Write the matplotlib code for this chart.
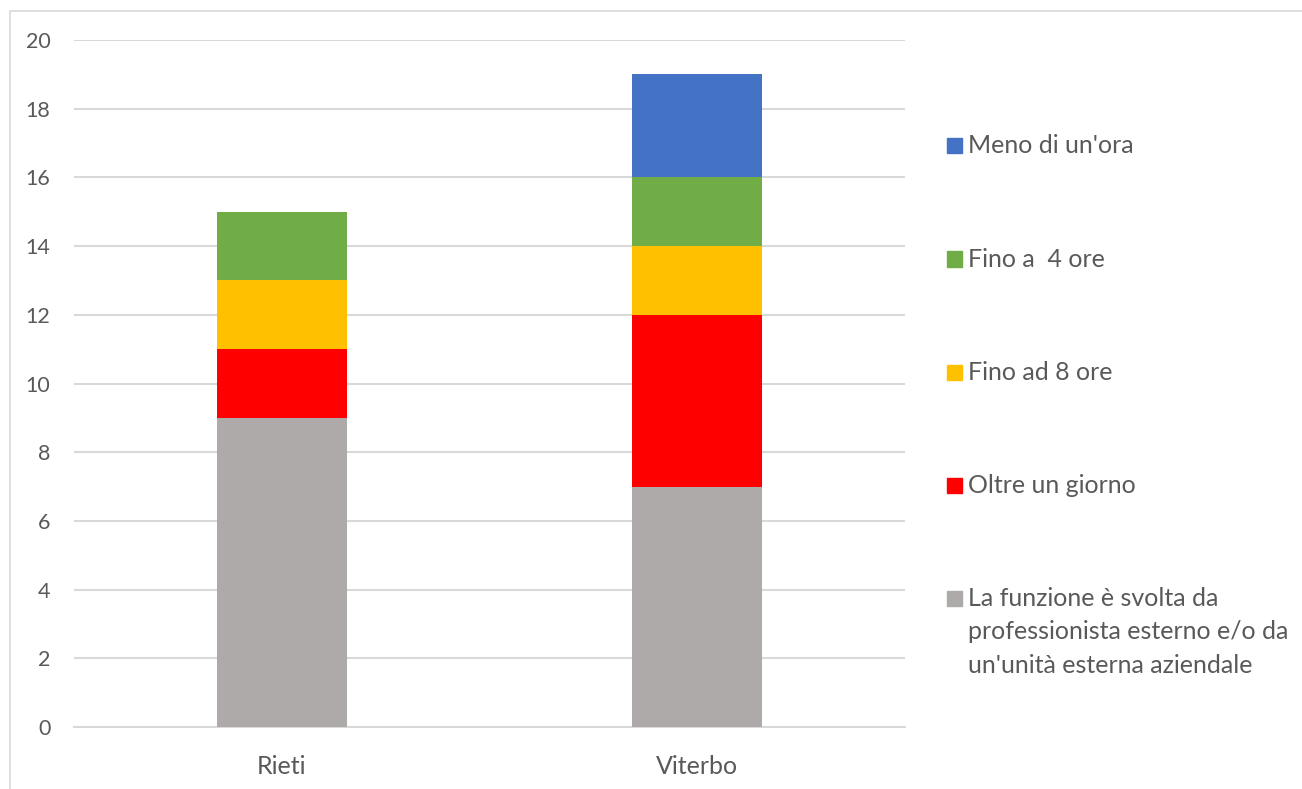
import matplotlib.pyplot as plt
from matplotlib.patches import Rectangle
import numpy as np

plt.rcParams['font.family'] = ['Lato', 'DejaVu Sans']

cities = ['Rieti', 'Viterbo']
# series listed bottom to top in the stack
series = [
    "La funzione è svolta da\nprofessionista esterno e/o da\nun'unità esterna aziendale",
    'Oltre un giorno',
    'Fino ad 8 ore',
    'Fino a  4 ore',
    "Meno di un'ora",
]
esterno = [9, 7]
oltre_giorno = [2, 5]
fino_8 = [2, 2]
fino_4 = [2, 2]
meno_ora = [0, 3]
colors = ['#AEAAAA', '#FF0000', '#FFC000', '#70AD47', '#4472C4']

values = [esterno, oltre_giorno, fino_8, fino_4, meno_ora]
txt = '#595959'
grid = '#D9D9D9'

fig = plt.figure(figsize=(13.02, 7.89), dpi=100)
fig.patches.append(Rectangle((10 / 1302, -0.1), 1.2, 1 - 11 / 789 + 0.1,
                             transform=fig.transFigure, fill=False,
                             edgecolor=grid, linewidth=1.2))
ax = fig.add_axes([74 / 1302, 1 - 727 / 789, (905 - 74) / 1302, (727 - 40) / 789])

x = np.arange(len(cities))
bottom = np.zeros(len(cities))
for vals, col in zip(values, colors):
    ax.bar(x, vals, bottom=bottom, width=0.313, color=col, zorder=3)
    bottom += np.array(vals)

ax.set_xlim(-0.5, 1.5)
ax.set_ylim(0, 20)
ax.set_yticks(range(0, 21, 2))
ax.set_xticks(x)
ax.set_xticklabels(cities)
ax.tick_params(length=0, colors=txt)
ax.tick_params(axis='y', pad=17, labelsize=15.5)
ax.tick_params(axis='x', pad=20, labelsize=18)
ax.yaxis.grid(True, color=grid, linewidth=1.5, zorder=0)
for s in ['top', 'right', 'left']:
    ax.spines[s].set_visible(False)
ax.spines['bottom'].set_color(grid)
ax.spines['bottom'].set_linewidth(1.5)

# legend, top entry first
leg_y = [145, 259, 372, 485, 598]
for name, col, yy in zip(series[::-1], colors[::-1], leg_y):
    yf = 1 - yy / 789
    fig.patches.append(Rectangle((947 / 1302, yf - 7.5 / 789), 15 / 1302, 15 / 789,
                                 transform=fig.transFigure, color=col))
    fig.text(968 / 1302, yf + 11 / 789, name, fontsize=18, color=txt,
             va='top', ha='left', linespacing=1.55)

fig.savefig('out.png', dpi=100)
